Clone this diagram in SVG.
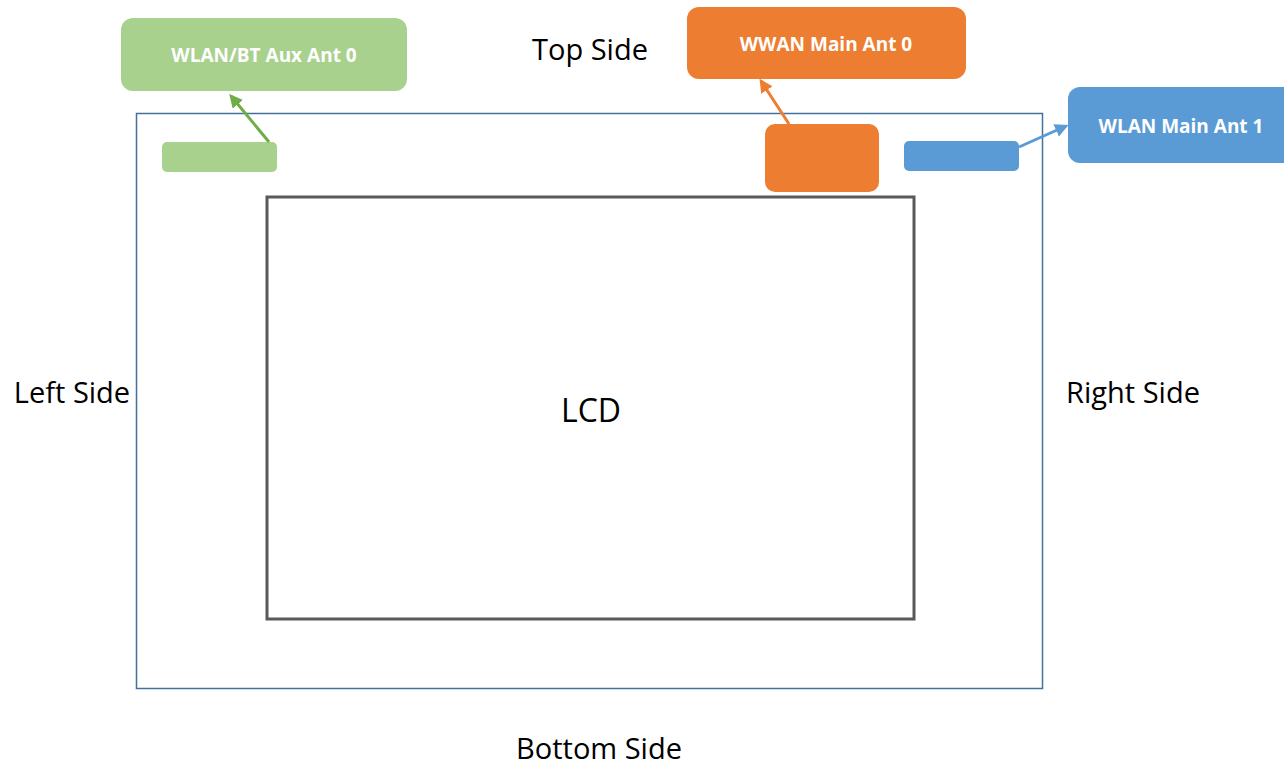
<svg xmlns="http://www.w3.org/2000/svg" width="1284" height="766" viewBox="0 0 1284 766">
<defs>
<style>
.side{font-family:"Open Sans","Liberation Sans",sans-serif;font-size:29px;fill:#000}
.big{font-size:32px}
.lbl{font-family:"Open Sans","Liberation Sans",sans-serif;font-size:19px;font-weight:bold;fill:#fff}
</style>
<marker id="ag" viewBox="0 0 10 10" refX="8" refY="5" markerWidth="4.5" markerHeight="4.5" orient="auto"><path d="M0,0L10,5L0,10z" fill="#70AD47"/></marker>
<marker id="ao" viewBox="0 0 10 10" refX="8" refY="5" markerWidth="4.5" markerHeight="4.5" orient="auto"><path d="M0,0L10,5L0,10z" fill="#ED7D31"/></marker>
<marker id="ab" viewBox="0 0 10 10" refX="8" refY="5" markerWidth="4.5" markerHeight="4.5" orient="auto"><path d="M0,0L10,5L0,10z" fill="#5B9BD5"/></marker>
</defs>
<rect width="1284" height="766" fill="#fff"/>
<g id="frame"><rect x="136.5" y="113.5" width="906" height="575" fill="none" stroke="#41719C" stroke-width="1.5"/></g>
<g id="lcd"><rect x="267" y="197" width="647" height="422" fill="none" stroke="#595959" stroke-width="3"/>
<text class="side big" x="591" y="422" text-anchor="middle">LCD</text></g>
<g id="top-side"><text class="side" x="590" y="60" text-anchor="middle">Top Side</text></g>
<g id="left-side"><text class="side" x="72" y="403" text-anchor="middle">Left Side</text></g>
<g id="right-side"><text class="side" x="1133" y="403" text-anchor="middle">Right Side</text></g>
<g id="bottom-side"><text class="side" x="599" y="759" text-anchor="middle">Bottom Side</text></g>
<g id="wlan-bt-aux"><rect x="121" y="18" width="286" height="73" rx="12" fill="#A9D18E"/>
<text class="lbl" x="264" y="62" text-anchor="middle">WLAN/BT Aux Ant 0</text></g>
<g id="green-ant"><rect x="162" y="142" width="115" height="30" rx="5" fill="#A9D18E"/></g>
<g id="wwan-main"><rect x="687" y="7" width="279" height="72" rx="12" fill="#ED7D31"/>
<text class="lbl" x="826" y="51" text-anchor="middle">WWAN Main Ant 0</text></g>
<g id="orange-ant"><rect x="765" y="124" width="114" height="68" rx="10" fill="#ED7D31"/></g>
<g id="wlan-main"><rect x="1068" y="87" width="240" height="76" rx="12" fill="#5B9BD5"/>
<text class="lbl" x="1181" y="133" text-anchor="middle">WLAN Main Ant 1</text></g>
<g id="blue-ant"><rect x="904" y="141" width="115" height="30" rx="5" fill="#5B9BD5"/></g>
<g id="connectors">
<line x1="269" y1="142" x2="231" y2="96" stroke="#70AD47" stroke-width="3" marker-end="url(#ag)"/>
<line x1="789" y1="124" x2="761" y2="81" stroke="#ED7D31" stroke-width="3" marker-end="url(#ao)"/>
<line x1="1019" y1="147" x2="1066" y2="126" stroke="#5B9BD5" stroke-width="3" marker-end="url(#ab)"/>
</g>
</svg>
